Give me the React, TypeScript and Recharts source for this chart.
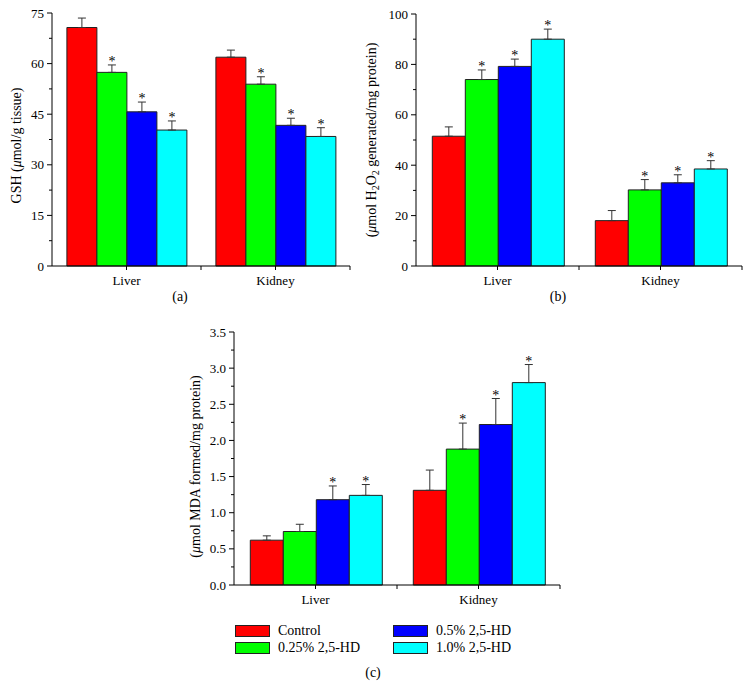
import React from "react";
import { BarChart, Bar, XAxis, YAxis, ErrorBar, LabelList } from "recharts";

const FONT = "'Liberation Serif', 'Times New Roman', serif";

const organs = ["Liver", "Kidney"];
const groups = ["Control", "0.25% 2,5-HD", "0.5% 2,5-HD", "1.0% 2,5-HD"];
const groupColors = ["#ff0000", "#00ff00", "#0000ff", "#00ffff"];

// values are [organ][group]; errors are upper SD only
const gshMean = [[70.7, 57.4, 45.7, 40.3], [61.9, 53.9, 41.7, 38.4]];
const gshErr = [[2.8, 2.2, 2.9, 2.7], [2.1, 2.2, 2.1, 2.6]];
const gshSig = [[false, true, true, true], [false, true, true, true]];
const gshTicks = [0, 15, 30, 45, 60, 75];
const gshMinor = [7.5, 22.5, 37.5, 52.5, 67.5];

const h2o2Mean = [[51.5, 74.0, 79.2, 90.0], [18.0, 30.2, 33.0, 38.5]];
const h2o2Err = [[3.7, 3.8, 2.9, 4.0], [4.0, 4.1, 3.2, 3.3]];
const h2o2Sig = [[false, true, true, true], [false, true, true, true]];
const h2o2Ticks = [0, 20, 40, 60, 80, 100];
const h2o2Minor = [10, 30, 50, 70, 90];

const mdaMean = [[0.62, 0.74, 1.18, 1.24], [1.31, 1.88, 2.22, 2.8]];
const mdaErr = [[0.06, 0.1, 0.19, 0.15], [0.28, 0.36, 0.36, 0.25]];
const mdaSig = [[false, false, true, true], [false, true, true, true]];
const mdaTicks = [0, 0.5, 1.0, 1.5, 2.0, 2.5, 3.0, 3.5];
const mdaMinor = [0.25, 0.75, 1.25, 1.75, 2.25, 2.75, 3.25];

function buildRows(mean: number[][], err: number[][]) {
  return organs.map((organ, i) => {
    const row: Record<string, any> = { organ };
    groups.forEach((_, g) => {
      row[`v${g}`] = mean[i][g];
      row[`e${g}`] = [0, err[i][g]];
    });
    return row;
  });
}

function YTick({ x, y, payload, majors, fmt }: any) {
  const major = majors.includes(payload.value);
  return (
    <g>
      <line x1={x} x2={x - (major ? 5 : 3)} y1={y} y2={y} stroke="#000" />
      {major && (
        <text x={x - 8} y={y} dy={4.5} textAnchor="end" fontSize={13} fontFamily={FONT} fill="#000">
          {fmt(payload.value)}
        </text>
      )}
    </g>
  );
}

function XTick({ x, y, payload }: any) {
  const half = payload.offset || 0;
  return (
    <g>
      <line x1={x} x2={x} y1={y} y2={y + 4} stroke="#000" />
      {half > 0 && <line x1={x + half} x2={x + half} y1={y} y2={y + 4} stroke="#000" />}
      <text x={x} y={y + 19} textAnchor="middle" fontSize={13} fontFamily={FONT} fill="#000">
        {payload.value}
      </text>
    </g>
  );
}

const starLabel = (mean: number[][], err: number[][], sig: boolean[][], g: number) => (p: any) => {
  const i = p.index;
  if (i == null || !sig[i][g]) return null;
  const x = Number(p.x), y = Number(p.y), w = Number(p.width), h = Number(p.height);
  const top = y - (err[i][g] * h) / mean[i][g];
  return (
    <text x={x + w / 2} y={top + 1} textAnchor="middle" fontSize={14} fontFamily={FONT} fill="#000">
      *
    </text>
  );
};

function Panel(props: any) {
  const { left, top, width, height, margin, yWidth, mean, err, sig, ticks, minor, fmt, label, labelX, labelDy } = props;
  const rows = buildRows(mean, err);
  const allTicks = [...ticks, ...minor].sort((a, b) => a - b);
  return (
    <div style={{ position: "absolute", left, top }}>
      <BarChart width={width} height={height} data={rows} margin={margin} barGap={0} barCategoryGap="10%">
        <XAxis
          dataKey="organ"
          axisLine={{ stroke: "#000" }}
          tickLine={false}
          tickSize={0}
          tickMargin={0}
          height={30}
          tick={(p: any) => <XTick {...p} />}
        />
        <YAxis
          width={yWidth}
          domain={[0, ticks[ticks.length - 1]]}
          ticks={allTicks}
          interval={0}
          axisLine={{ stroke: "#000" }}
          tickLine={false}
          tickSize={0}
          tickMargin={0}
          tick={(p: any) => <YTick {...p} majors={ticks} fmt={fmt} />}
          label={{
            content: (lp: any) => {
              const vb = lp.viewBox || { y: margin.top, height: height - margin.top - margin.bottom - 30 };
              const cy = vb.y + vb.height / 2 + labelDy;
              return (
                <text
                  x={labelX}
                  y={cy}
                  transform={`rotate(-90 ${labelX} ${cy})`}
                  textAnchor="middle"
                  fontSize={14}
                  fontFamily={FONT}
                  fill="#000"
                >
                  {label}
                </text>
              );
            },
          }}
        />
        {groups.map((name, g) => (
          <Bar
            key={name}
            dataKey={`v${g}`}
            name={name}
            fill={groupColors[g]}
            stroke="#222"
            strokeWidth={1}
            isAnimationActive={false}
          >
            <ErrorBar dataKey={`e${g}`} width={4} stroke="#333" strokeWidth={1} direction="y" />
            <LabelList dataKey={`v${g}`} content={starLabel(mean, err, sig, g)} />
          </Bar>
        ))}
      </BarChart>
    </div>
  );
}

const mu = <tspan fontStyle="italic">μ</tspan>;

function Caption({ x, y, text }: { x: number; y: number; text: string }) {
  return (
    <div
      style={{
        position: "absolute",
        left: x - 20,
        top: y - 9,
        width: 40,
        textAlign: "center",
        fontSize: 14,
        lineHeight: "18px",
        fontFamily: FONT,
      }}
    >
      {text}
    </div>
  );
}

export default function App() {
  return (
    <div style={{ position: "absolute", left: 0, top: 0, width: 750, height: 688, background: "#fff", fontFamily: FONT }}>
      <Panel
        left={0}
        top={0}
        width={375}
        height={320}
        margin={{ top: 13, right: 25, bottom: 24, left: 0 }}
        yWidth={52}
        mean={gshMean}
        err={gshErr}
        sig={gshSig}
        ticks={gshTicks}
        minor={gshMinor}
        fmt={(v: number) => String(v)}
        labelX={21}
        labelDy={6}
        label={<>GSH ({mu}mol/g tissue)</>}
      />
      <Panel
        left={350}
        top={0}
        width={400}
        height={320}
        margin={{ top: 14, right: 8, bottom: 24, left: 0 }}
        yWidth={66}
        mean={h2o2Mean}
        err={h2o2Err}
        sig={h2o2Sig}
        ticks={h2o2Ticks}
        minor={h2o2Minor}
        fmt={(v: number) => String(v)}
        labelX={26}
        labelDy={0}
        label={
          <>
            ({mu}mol H<tspan dy={3} fontSize={10}>2</tspan>
            <tspan dy={-3}>O</tspan>
            <tspan dy={3} fontSize={10}>2</tspan>
            <tspan dy={-3}> generated/mg protein)</tspan>
          </>
        }
      />
      <Panel
        left={180}
        top={320}
        width={420}
        height={300}
        margin={{ top: 12, right: 40, bottom: 5, left: 0 }}
        yWidth={54}
        mean={mdaMean}
        err={mdaErr}
        sig={mdaSig}
        ticks={mdaTicks}
        minor={mdaMinor}
        fmt={(v: number) => v.toFixed(1)}
        labelX={20}
        labelDy={8}
        label={<>({mu}mol MDA formed/mg protein)</>}
      />
      <Caption x={180} y={297} text="(a)" />
      <Caption x={558} y={297} text="(b)" />
      <div style={{ position: "absolute", left: 235, top: 624, width: 320, fontSize: 14, fontFamily: FONT }}>
        {[0, 2, 1, 3].map((g, k) => (
          <div
            key={g}
            style={{
              position: "absolute",
              left: k % 2 === 0 ? 0 : 158,
              top: k < 2 ? 0 : 17,
              display: "flex",
              alignItems: "center",
              height: 14,
            }}
          >
            <span
              style={{
                display: "inline-block",
                width: 33,
                height: 10,
                background: groupColors[g],
                border: "1px solid #222",
                marginRight: 8,
              }}
            />
            <span style={{ whiteSpace: "nowrap" }}>{groups[g]}</span>
          </div>
        ))}
      </div>
      <Caption x={373} y={673} text="(c)" />
    </div>
  );
}
